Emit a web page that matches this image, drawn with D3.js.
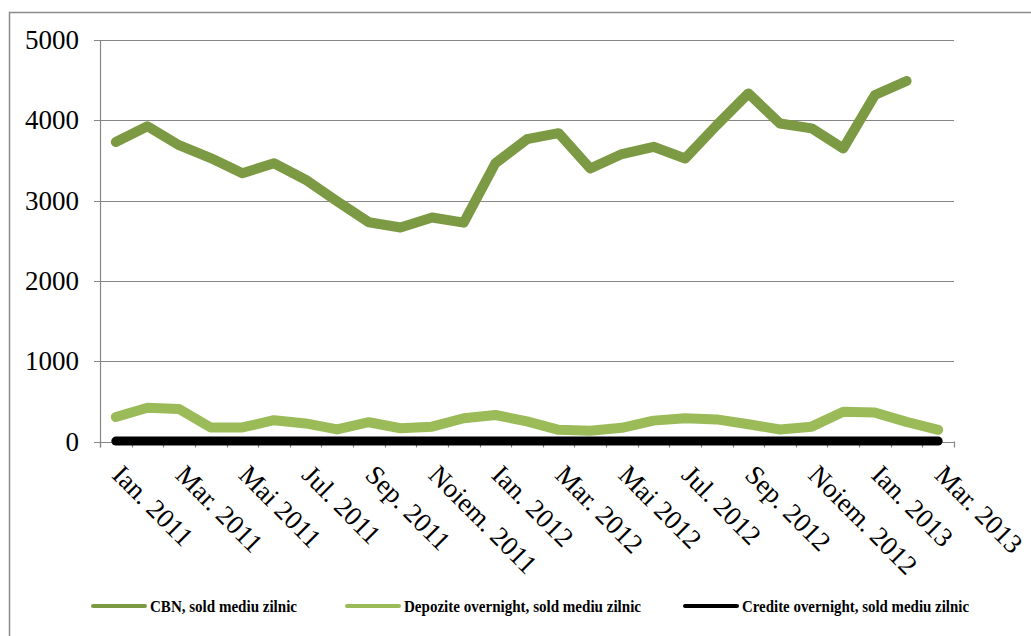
<!DOCTYPE html>
<html>
<head>
<meta charset="utf-8">
<script src="https://cdn.jsdelivr.net/npm/d3@7"></script>
<style>
  html, body { margin: 0; padding: 0; background: #fff; }
  svg { display: block; }
</style>
</head>
<body>
<div id="chart"></div>
<script>
'use strict';

// months, Ian. 2011 .. Mar. 2013
const months = [
  'Ian. 2011', 'Feb. 2011', 'Mar. 2011', 'Apr. 2011', 'Mai 2011', 'Iun. 2011',
  'Jul. 2011', 'Aug. 2011', 'Sep. 2011', 'Oct. 2011', 'Noiem. 2011', 'Dec. 2011',
  'Ian. 2012', 'Feb. 2012', 'Mar. 2012', 'Apr. 2012', 'Mai 2012', 'Iun. 2012',
  'Jul. 2012', 'Aug. 2012', 'Sep. 2012', 'Oct. 2012', 'Noiem. 2012', 'Dec. 2012',
  'Ian. 2013', 'Feb. 2013', 'Mar. 2013'
]

// series values (mil. lei)
const cbn = [3730, 3925, 3690, 3530, 3340, 3465, 3260, 2990, 2730, 2665, 2790, 2725,
  3465, 3765, 3840, 3400, 3580, 3670, 3525, 3940, 4335, 3960, 3900, 3650,
  4315, 4490, null]
const depozite = [305, 420, 405, 175, 175, 265, 225, 150, 240, 165, 185, 290,
  330, 250, 145, 135, 170, 260, 290, 275, 215, 150, 185, 370,
  360, 245, 145]
const credite = [5, 5, 5, 5, 5, 5, 5, 5, 5, 5, 5, 5,
  5, 5, 5, 5, 5, 5, 5, 5, 5, 5, 5, 5,
  5, 5, 5]

const yTicks = [0, 1000, 2000, 3000, 4000, 5000]

const seriesNames = ['CBN, sold mediu zilnic', 'Depozite overnight, sold mediu zilnic', 'Credite overnight, sold mediu zilnic']
const seriesColors = ['#7b9a43', '#9bbb59', '#000000']

const width = 1031, height = 636
const margin = {top: 40, right: 77, bottom: 194.5, left: 100}
const axisGray = '#868686'

const svg = d3.select('#chart').append('svg')
  .attr('width', width)
  .attr('height', height)

// outer chart border
svg.append('rect')
  .attr('x', 9.5).attr('y', 12.5)
  .attr('width', 1040).attr('height', 640)
  .attr('fill', 'none')
  .attr('stroke', '#8c8c8c')
  .attr('stroke-width', 1.5)

const x = d3.scaleBand()
  .domain(months)
  .range([margin.left, width - margin.right])
  .padding(0)

const y = d3.scaleLinear()
  .domain([0, 5000])
  .range([height - margin.bottom, margin.top])

const cx = d => x(d) + x.bandwidth() / 2

// gridlines + y labels
const grid = svg.append('g')
grid.selectAll('line')
  .data(yTicks)
  .join('line')
  .attr('x1', margin.left - 6)
  .attr('x2', width - margin.right)
  .attr('y1', d => Math.round(y(d)) + 0.5)
  .attr('y2', d => Math.round(y(d)) + 0.5)
  .attr('stroke', axisGray)
  .attr('stroke-width', 1.2)

grid.selectAll('text')
  .data(yTicks)
  .join('text')
  .attr('x', margin.left - 21)
  .attr('y', d => y(d))
  .attr('dy', '0.34em')
  .attr('text-anchor', 'end')
  .style('font-family', '"Liberation Serif", "Times New Roman", serif')
  .style('font-size', '27px')
  .attr('fill', '#000')
  .text(d => d)

// y axis line
svg.append('line')
  .attr('x1', margin.left + 0.5).attr('x2', margin.left + 0.5)
  .attr('y1', margin.top).attr('y2', y(0) + 6)
  .attr('stroke', axisGray)
  .attr('stroke-width', 1.2)

// x axis ticks at category boundaries
const bounds = months.map(m => x(m)).concat([width - margin.right])
svg.append('g').selectAll('line')
  .data(bounds)
  .join('line')
  .attr('x1', d => Math.round(d) + 0.5)
  .attr('x2', d => Math.round(d) + 0.5)
  .attr('y1', y(0))
  .attr('y2', y(0) + 6)
  .attr('stroke', axisGray)
  .attr('stroke-width', 1.2)

// x labels, every second month
svg.append('g').selectAll('text')
  .data(months.filter((m, i) => i % 2 === 0))
  .join('text')
  .attr('transform', d => `translate(${cx(d) - 5},${y(0) + 35}) rotate(45)`)
  .style('font-family', '"Liberation Serif", "Times New Roman", serif')
  .style('font-size', '27px')
  .attr('fill', '#000')
  .text(d => d)

// lines
const line = d3.line()
  .defined(d => d.v !== null)
  .x(d => cx(d.m))
  .y(d => y(d.v))

const allSeries = [cbn, depozite, credite]
const widths = [10, 10, 9]
// draw in reverse so CBN stays on top like the original
;[2, 1, 0].forEach(k => {
  svg.append('path')
    .datum(allSeries[k].map((v, i) => ({m: months[i], v: v})))
    .attr('d', line)
    .attr('fill', 'none')
    .attr('stroke', seriesColors[k])
    .attr('stroke-width', widths[k])
    .attr('stroke-linejoin', 'round')
    .attr('stroke-linecap', 'round')
})

// legend
const legendX = [93, 347, 685]
const legendLen = [147, 237, 227]
const legend = svg.append('g')
  .selectAll('g')
  .data(seriesNames)
  .join('g')
  .attr('transform', (d, i) => `translate(${legendX[i]},606)`)

legend.append('line')
  .attr('x1', 0).attr('x2', 52)
  .attr('y1', 0).attr('y2', 0)
  .attr('stroke', (d, i) => seriesColors[i])
  .attr('stroke-width', 4)
  .attr('stroke-linecap', 'round')

legend.append('text')
  .attr('x', 57)
  .attr('y', 0)
  .attr('dy', '0.35em')
  .attr('textLength', (d, i) => legendLen[i])
  .attr('lengthAdjust', 'spacingAndGlyphs')
  .style('font-family', '"Liberation Serif", "Times New Roman", serif')
  .style('font-size', '16px')
  .style('font-weight', 'bold')
  .attr('fill', '#000')
  .text(d => d)
</script>
</body>
</html>
